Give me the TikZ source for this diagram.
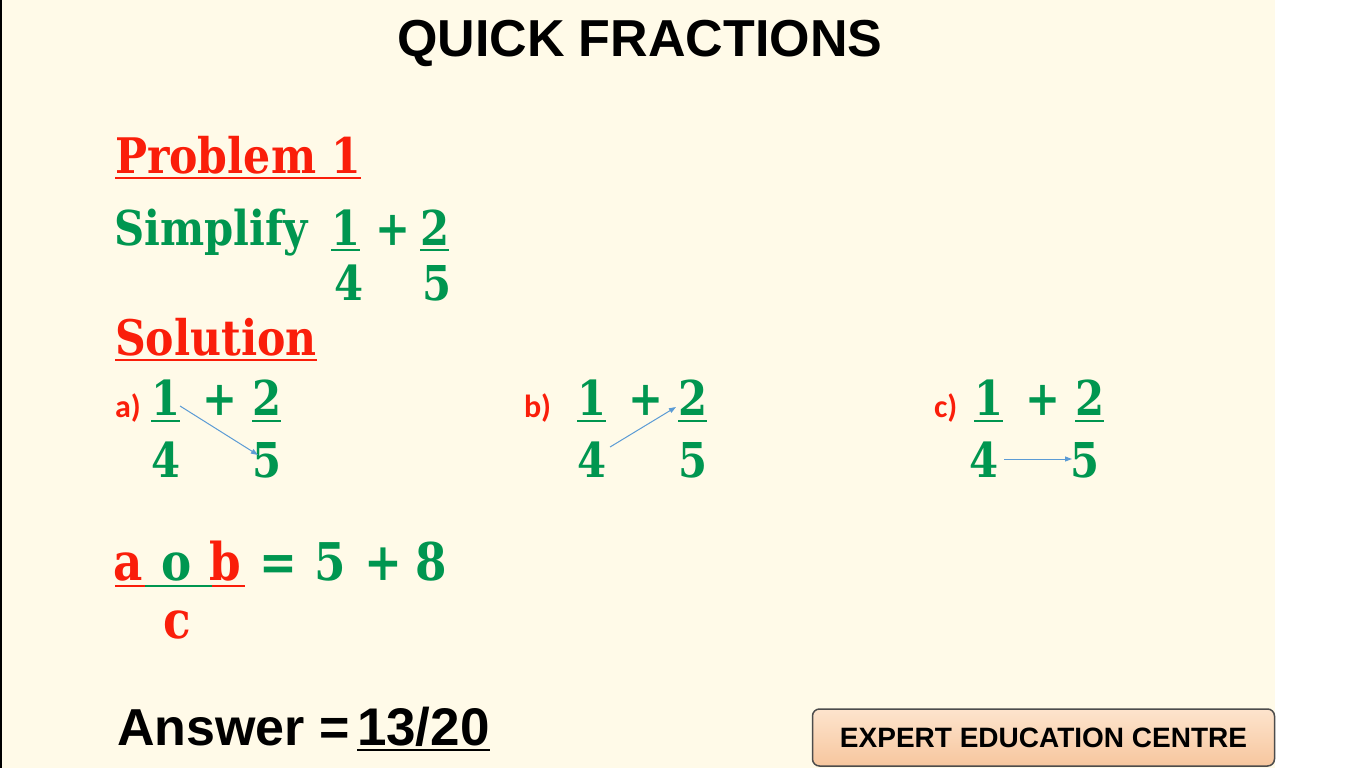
\documentclass[tikz,border=0pt]{standalone}
\usepackage{fontspec}
\usetikzlibrary{arrows.meta}
\newfontfamily\headfont{Liberation Sans}
\newfontfamily\sumfont[FakeStretch=0.87]{DejaVu Serif}
\newfontfamily\tagfont{Carlito}
\definecolor{cream}{RGB}{255, 250, 232}
\definecolor{qgreen}{RGB}{0, 150, 80}
\definecolor{qred}{RGB}{250, 30, 10}
\definecolor{qblue}{RGB}{91, 155, 213}
\definecolor{peachtop}{RGB}{253, 228, 205}
\definecolor{peachbot}{RGB}{247, 198, 158}

\begin{document}
\begin{tikzpicture}[x=1pt,y=-1pt,
  every node/.style={inner sep=0pt, outer sep=0pt, anchor=base west},
  headtext/.style={font=\headfont\bfseries\fontsize{52}{56}\selectfont},
  redtext/.style={text=qred, font=\sumfont\bfseries\fontsize{49}{52}\selectfont},
  greentext/.style={text=qgreen, font=\sumfont\bfseries\fontsize{48}{50}\selectfont},
  fractext/.style={text=qgreen, font=\sumfont\bfseries\fontsize{48}{52}\selectfont},
  ruletext/.style={text=qgreen, font=\sumfont\bfseries\fontsize{52}{56}\selectfont},
  tagtext/.style={text=qred, font=\tagfont\bfseries\fontsize{32}{34}\selectfont},
  bar/.style={line width=2.5pt},
  link/.style={draw=qblue, line width=1pt, -{Triangle[length=7pt,width=5pt]}}]
\useasboundingbox (0,0) rectangle (1366,768);

% Slide background
\fill[white] (0,0) rectangle (1366,768);
\fill[cream] (2,0) rectangle (1275,768);
\fill[black] (0,0) rectangle (2,768);

% Title
\node[headtext] (title) at (397,57) {QUICK FRACTIONS};

% Problem
\node[redtext] (problem) at (115,173) {Problem 1};
\draw[bar, qred] ([yshift=-5]problem.base west) -- ([yshift=-5]problem.base east);
\node[greentext] (simplify) at (114,245) {Simplify};
\node[greentext] (pone) at (331,245) {1};
\node[greentext] (pplus) at (375,245) {+};
\node[greentext] (ptwo) at (420,245) {2};
\node[greentext] (pfour) at (334,300) {4};
\node[greentext] (pfive) at (422,300) {5};
\draw[bar, qgreen] ([yshift=-5]pone.base west) -- ([yshift=-5]pone.base east);
\draw[bar, qgreen] ([yshift=-5]ptwo.base west) -- ([yshift=-5]ptwo.base east);

% Solution
\node[redtext] (solution) at (115,355) {Solution};
\draw[bar, qred] ([yshift=-5]solution.base west) -- ([yshift=-5]solution.base east);

% Three ways of pairing the numbers
\foreach \p/\t/\x/\lx/\dx in {A/a/151/115/0, B/b/577/524/0, C/c/974/934/-5} {
  \node[tagtext] (tag\p) at (\lx,417) {\t)};
  \node[fractext] (one\p) at (\x,415) {1};
  \node[fractext] (plus\p) at (\x+51,415) {+};
  \node[fractext] (two\p) at (\x+101,415) {2};
  \node[fractext] (four\p) at (\x+\dx,477) {4};
  \node[fractext] (five\p) at (\x+101+\dx,477) {5};
  \draw[bar, qgreen] ([yshift=-6]one\p.base west) -- ([yshift=-6]one\p.base east);
  \draw[bar, qgreen] ([yshift=-6]two\p.base west) -- ([yshift=-6]two\p.base east);
}
\draw[link] ([shift={(0,-9)}]oneA.base east) -- ([shift={(6,-22)}]fiveA.base west);
\draw[link] ([shift={(4,-30)}]fourB.base east) -- ([shift={(-2,-8)}]twoB.base west);
\draw[link] ([shift={(6,-18)}]fourC.base east) -- ([shift={(2,-18)}]fiveC.base west);

% Rule
\node[ruletext, text=qred] (ra) at (113,580) {a};
\node[ruletext] (ro) at (161,580) {o};
\node[ruletext, text=qred] (rb) at (209,580) {b};
\node[ruletext, text=qred] (rc) at (163,638) {c};
\draw[line width=2pt, qred] (115,586) -- (145,586);
\draw[line width=2pt, qgreen] (145,586) -- (212,586);
\draw[line width=2pt, qred] (212,586) -- (245,586);
\foreach \g/\x [count=\i] in {=/259, 5/314, +/364, 8/415}
  \node[ruletext] (sum\i) at (\x,580) {\g};

% Answer
\node[headtext] (answer) at (117,745) {Answer = };
\node[headtext, font=\headfont\bfseries\fontsize{53}{56}\selectfont] (result) at (357,745) {13/20};
\draw[bar] ([yshift=-5]result.base west) -- ([yshift=-5]result.base east);

% Centre badge
\node[anchor=center, draw=black!70, line width=1.5pt, rounded corners=7pt,
      top color=peachtop, bottom color=peachbot,
      minimum width=462pt, minimum height=57pt,
      font=\headfont\bfseries\fontsize{28}{30}\selectfont] (badge) at (1043.5,737.5) {EXPERT EDUCATION CENTRE};
\end{tikzpicture}
\end{document}
